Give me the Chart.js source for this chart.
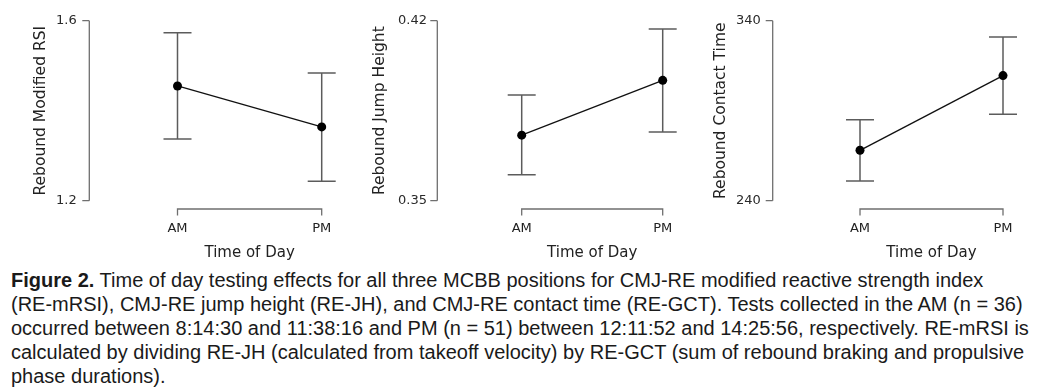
<!DOCTYPE html>
<html>
<head>
<meta charset="utf-8">
<script src="https://cdn.jsdelivr.net/npm/chart.js@4"></script>
<style>
  html, body { margin:0; padding:0; background:#fff; }
  body { width:1050px; height:390px; position:relative; overflow:hidden; }
  .cv { position:absolute; top:0; width:350px; height:265px; }
  #caption { position:absolute; left:11px; top:267.5px; font-family:"Liberation Sans", Arial, sans-serif;
    font-size:20px; line-height:24.2px; color:#1a1a1a; white-space:nowrap; }
  #caption b { font-weight:bold; }
</style>
</head>
<body>
<canvas id="c1" class="cv" style="left:0px" width="350" height="265"></canvas>
<canvas id="c2" class="cv" style="left:350px" width="350" height="265"></canvas>
<canvas id="c3" class="cv" style="left:700px" width="350" height="265"></canvas>
<div id="caption">
  <div><b>Figure 2.</b> Time of day testing effects for all three MCBB positions for CMJ-RE modified reactive strength index</div>
  <div>(RE-mRSI), CMJ-RE jump height (RE-JH), and CMJ-RE contact time (RE-GCT). Tests collected in the AM (n = 36)</div>
  <div>occurred between 8:14:30 and 11:38:16 and PM (n = 51) between 12:11:52 and 14:25:56, respectively. RE-mRSI is</div>
  <div>calculated by dividing RE-JH (calculated from takeoff velocity) by RE-GCT (sum of rebound braking and propulsive</div>
  <div>phase durations).</div>
</div>
<script>
// ---- data ----
const categories = ['AM', 'PM'];
const xTitle = 'Time of Day';

const rsiTitle = 'Rebound Modified RSI';
const rsiMean = [1.455, 1.364];
const rsiLow  = [1.337, 1.243];
const rsiHigh = [1.573, 1.484];
const rsiTicks = ['1.2', '1.6'];

const jhTitle = 'Rebound Jump Height';
const jhMean = [0.3755, 0.3968];
const jhLow  = [0.3601, 0.3767];
const jhHigh = [0.3911, 0.4168];
const jhTicks = ['0.35', '0.42'];

const gctTitle = 'Rebound Contact Time';
const gctMean = [268, 309.5];
const gctLow  = [251, 288];
const gctHigh = [285, 331];
const gctTicks = ['240', '340'];

// ---- layout (per panel, px relative to canvas) ----
const H = 265, TOP = 20.7, BOTTOM = 200.7;
const panels = [
  {id:'c1', title:rsiTitle, mean:rsiMean, low:rsiLow, high:rsiHigh, ticks:rsiTicks, axisX:89.3, amX:177.5, pmX:321.7, titleX:39.5, labelRight:76.7},
  {id:'c2', title:jhTitle,  mean:jhMean,  low:jhLow,  high:jhHigh,  ticks:jhTicks,  axisX:87.3, amX:171.7, pmX:312.7, titleX:28.5, labelRight:77},
  {id:'c3', title:gctTitle, mean:gctMean, low:gctLow, high:gctHigh, ticks:gctTicks, axisX:72.7, amX:160,   pmX:303,   titleX:19.7, labelRight:60.7}
];

const AXIS_COLOR = '#6f6f6f';
const ERR_COLOR = '#5c5c5c';

const axesPlugin = {
  id: 'customAxes',
  beforeDatasetsDraw(chart, args, opts) {
    const ctx = chart.ctx;
    const xs = chart.scales.x, ys = chart.scales.y;
    const p = opts.panel;
    ctx.save();
    // y axis line with tick stubs
    ctx.strokeStyle = AXIS_COLOR;
    ctx.lineWidth = 1.3;
    const yTop = ys.getPixelForValue(ys.max), yBot = ys.getPixelForValue(ys.min);
    ctx.beginPath();
    ctx.moveTo(p.axisX, yTop); ctx.lineTo(p.axisX, yBot);
    ys.ticks.forEach(t => {
      const y = ys.getPixelForValue(t.value);
      ctx.moveTo(p.axisX - 7, y); ctx.lineTo(p.axisX, y);
    });
    ctx.stroke();
    // x bracket
    const x0 = xs.getPixelForValue(0), x1 = xs.getPixelForValue(categories.length - 1);
    const by = chart.chartArea.bottom + 8.3;
    ctx.beginPath();
    ctx.moveTo(x0, by + 6.5); ctx.lineTo(x0, by); ctx.lineTo(x1, by); ctx.lineTo(x1, by + 6.5);
    ctx.stroke();
    // error bars
    ctx.strokeStyle = ERR_COLOR;
    ctx.lineWidth = 1.5;
    ctx.beginPath();
    categories.forEach((c, i) => {
      const x = xs.getPixelForValue(i);
      const yl = ys.getPixelForValue(p.low[i]), yh = ys.getPixelForValue(p.high[i]);
      ctx.moveTo(x, yl); ctx.lineTo(x, yh);
      ctx.moveTo(x - 14, yl); ctx.lineTo(x + 14, yl);
      ctx.moveTo(x - 14, yh); ctx.lineTo(x + 14, yh);
    });
    ctx.stroke();
    ctx.restore();
  }
};

panels.forEach(p => {
  const tickVals = p.ticks.map(Number);
  new Chart(document.getElementById(p.id), {
    type: 'line',
    data: {
      labels: categories,
      datasets: [{
        data: p.mean,
        borderColor: '#111',
        borderWidth: 1.3,
        pointRadius: 4.5,
        pointBackgroundColor: '#000',
        pointBorderColor: '#000',
        pointBorderWidth: 0,
        clip: false,
        tension: 0
      }]
    },
    options: {
      responsive: false,
      animation: false,
      events: [],
      layout: { autoPadding: false, padding: { left: 0, top: TOP, right: 350 - p.pmX, bottom: 0 } },
      plugins: { legend: { display: false }, tooltip: { enabled: false }, customAxes: { panel: p } },
      scales: {
        x: {
          type: 'category',
          offset: false,
          grid: { display: false, drawTicks: false },
          border: { display: false },
          ticks: { color: '#222', font: { family: 'DejaVu Sans', size: 13 }, padding: 20, maxRotation: 0, autoSkip: false },
          title: { display: true, text: xTitle, color: '#222', font: { family: 'DejaVu Sans', size: 15 }, padding: { top: 0, bottom: 2.5 } },
          afterFit: s => { s.height = H - BOTTOM; s.paddingLeft = 0; s.paddingRight = 0; s.paddingTop = 0; s.paddingBottom = 0; }
        },
        y: {
          min: tickVals[0],
          max: tickVals[tickVals.length - 1],
          grid: { display: false, drawTicks: false },
          border: { display: false },
          afterBuildTicks: s => { s.ticks = tickVals.map(v => ({ value: v })); },
          ticks: {
            color: '#2a2a2a',
            font: { family: 'DejaVu Sans', size: 13 },
            padding: p.amX - p.labelRight,
            callback: (v, i) => p.ticks[i]
          },
          title: { display: true, text: p.title, color: '#222', font: { family: 'DejaVu Sans', size: 15.5 }, padding: { top: p.titleX - 8.3, bottom: 0 } },
          afterFit: s => { s.width = p.amX; s.paddingTop = 0; s.paddingBottom = 0; s.paddingLeft = 0; s.paddingRight = 0; }
        }
      }
    },
    plugins: [axesPlugin]
  });
});
</script>
</body>
</html>
